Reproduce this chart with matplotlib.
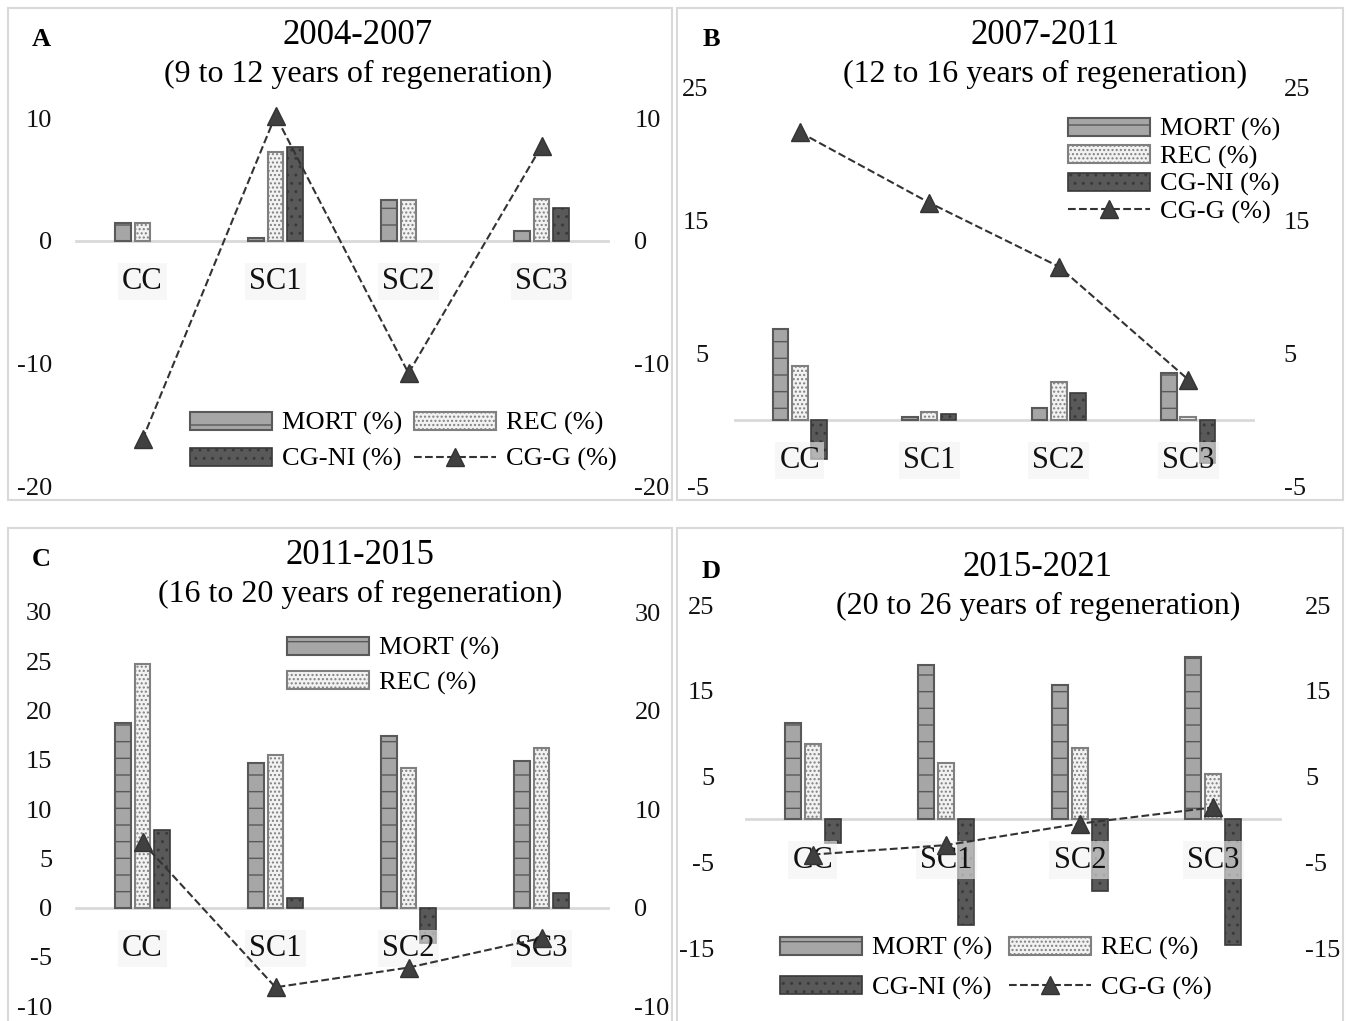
import matplotlib
matplotlib.use("Agg")
import matplotlib.pyplot as plt
from matplotlib.patches import Rectangle, Patch
from matplotlib.lines import Line2D

plt.rcParams['font.family'] = ['Liberation Serif', 'DejaVu Serif']
plt.rcParams['hatch.linewidth'] = 1.0
plt.rcParams['axes.unicode_minus'] = False

# data
sites = ["CC", "SC1", "SC2", "SC3"]

mort_a = [1.4, 0.25, 3.3, 0.8]
rec_a = [1.4, 7.2, 3.3, 3.4]
cgni_a = [0, 7.6, 0, 2.7]
cgg_a = [-16.2, 10.2, -10.8, 7.7]

mort_b = [6.8, 0.2, 0.85, 3.5]
rec_b = [4.0, 0.6, 2.8, 0.2]
cgni_b = [-3.0, 0.45, 2.0, -3.3]
cgg_b = [21.6, 16.3, 11.5, 3.0]

mort_c = [18.7, 14.7, 17.4, 14.9]
rec_c = [24.7, 15.5, 14.2, 16.2]
cgni_c = [7.9, 1.0, -3.6, 1.5]
cgg_c = [6.6, -8.1, -6.1, -3.1]

mort_d = [11.25, 18.0, 15.7, 18.9]
rec_d = [8.8, 6.6, 8.3, 5.3]
cgni_d = [-2.8, -12.3, -8.3, -14.6]
cgg_d = [-4.1, -3.0, -0.5, 1.4]

# bar / line styles
MORT = dict(facecolor='#a6a6a6', edgecolor='#595959', linewidth=1.5, hatch='-')
REC = dict(facecolor='#f2f2f2', edgecolor='#808080', linewidth=1.5, hatch='....')
CGNI = dict(facecolor='#595959', edgecolor='#3a3a3a', linewidth=1.2, hatch='..')
CGG = dict(linestyle='--', color='#333333', linewidth=1.5, marker='^',
           markersize=13, markerfacecolor='#404040', markeredgecolor='#333333')

W, H = 1348, 1021
fig = plt.figure(figsize=(W / 100, H / 100), dpi=100)


def rect(l, r, t, b):
    return [l / W, 1 - b / H, (r - l) / W, (b - t) / H]


# panel frames
for (l, r, t, b) in [(8, 672, 8, 500), (677, 1343, 8, 500),
                     (8, 672, 528, 1030), (677, 1343, 528, 1030)]:
    fig.patches.append(Rectangle((l / W, 1 - b / H), (r - l) / W, (b - t) / H,
                                 transform=fig.transFigure, fill=False,
                                 edgecolor='#d9d9d9', linewidth=1.5))


def panel(box, mort, rec, cgni, cgg, ylim, lticks, rticks, lpad, rpad,
          title, sub, letter, tpos, order, ncol, lpos, lspace, cspace):
    ax = fig.add_axes(rect(*box))
    x = list(range(len(sites)))
    w = 0.12
    off = 0.15
    for xs, vals, st in [([i - off for i in x], mort, MORT), (x, rec, REC),
                         ([i + off for i in x], cgni, CGNI)]:
        bars = ax.bar(xs, vals, w, **st)
        for p in bars.patches:
            if p.get_height() == 0:
                p.set_visible(False)
    ax.plot(x, cgg, clip_on=False, zorder=4, **CGG)
    ax.set_xlim(-0.5, 3.5)
    ax.set_ylim(*ylim)
    for s in ['top', 'left', 'right']:
        ax.spines[s].set_visible(False)
    ax.spines['bottom'].set_position(('data', 0))
    ax.spines['bottom'].set_color('#d9d9d9')
    ax.spines['bottom'].set_linewidth(2)
    ax.spines['bottom'].set_zorder(0.5)
    ax.set_xticks(x)
    ax.set_xticklabels(sites, fontsize=22, color='#111111')
    for t in ax.get_xticklabels():
        t.set_bbox(dict(facecolor='#f2f2f2', edgecolor='none', alpha=0.6, pad=3))
    ax.tick_params(axis='x', length=0, pad=19)
    ax.set_yticks(lticks)
    ax.tick_params(axis='y', length=0, labelsize=19, pad=lpad, labelcolor='#111111')
    ax.patch.set_alpha(0)

    ax2 = ax.twinx()
    ax2.set_ylim(*ylim)
    ax2.set_yticks(rticks)
    ax2.tick_params(axis='y', length=0, labelsize=19, pad=rpad, labelcolor='#111111')
    for s in ax2.spines.values():
        s.set_visible(False)

    tx, ty = tpos
    fig.text(tx / W, 1 - ty / H, title, fontsize=25, ha='center', va='center')
    fig.text(tx / W, 1 - (ty + 39) / H, sub, fontsize=23, ha='center', va='center')
    lx = 41 if box[0] < 600 else 711
    fig.text(lx / W, 1 - (ty + 4) / H, letter, fontsize=19, fontweight='bold',
             ha='center', va='center')

    lookup = dict(m=Patch(label='MORT (%)', **MORT),
                  r=Patch(label='REC (%)', **REC),
                  n=Patch(label='CG-NI (%)', **CGNI),
                  g=Line2D([], [], label='CG-G (%)', **CGG))
    hs = [lookup[h] for h in order]
    ax.legend(handles=hs, frameon=False, fontsize=19, handlelength=3.1,
              handleheight=0.65, handletextpad=0.38, labelspacing=lspace,
              columnspacing=cspace, ncol=ncol, loc='upper left',
              borderpad=0, borderaxespad=0,
              bbox_to_anchor=(lpos[0] / W, 1 - lpos[1] / H),
              bbox_transform=fig.transFigure)
    return ax


panel((76, 608, 118, 486), mort_a, rec_a, cgni_a, cgg_a, (-20, 10),
      [-20, -10, 0, 10], [-20, -10, 0, 10], 17, 19,
      "2004-2007", "(9 to 12 years of regeneration)", "A", (358, 35),
      ['m', 'n', 'r', 'g'], 2, (190, 412), 0.47, 0.45)

panel((735, 1253, 87, 486), mort_b, rec_b, cgni_b, cgg_b, (-5, 25),
      [-5, 5, 15, 25], [-5, 5, 15, 25], 19, 22,
      "2007-2011", "(12 to 16 years of regeneration)", "B", (1045, 35),
      ['m', 'r', 'n', 'g'], 1, (1068, 118), 0.15, 0.5)

panel((76, 608, 612, 1006), mort_c, rec_c, cgni_c, cgg_c, (-10, 30),
      list(range(-10, 31, 5)), [-10, 0, 10, 20, 30], 17, 19,
      "2011-2015", "(16 to 20 years of regeneration)", "C", (360, 555),
      ['m', 'r'], 1, (287, 637), 0.4, 0.5)

panel((746, 1280, 605, 948), mort_d, rec_d, cgni_d, cgg_d, (-15, 25),
      [-15, -5, 5, 15, 25], [-15, -5, 5, 15, 25], 23, 18,
      "2015-2021", "(20 to 26 years of regeneration)", "D", (1038, 567),
      ['m', 'n', 'r', 'g'], 2, (780, 937), 0.59, 0.65)

fig.savefig("out.png", dpi=100)
